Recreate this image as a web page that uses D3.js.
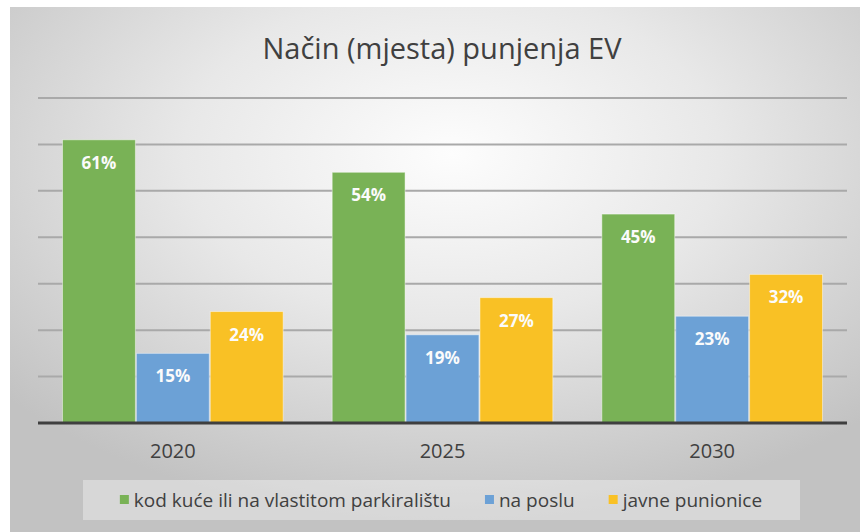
<!DOCTYPE html>
<html>
<head>
<meta charset="utf-8">
<script src="https://cdn.jsdelivr.net/npm/d3@7"></script>
<style>
  body { margin: 0; background: #ffffff; }
  svg { display: block; }
</style>
</head>
<body>
<div id="chart"></div>
<script>
// Način (mjesta) punjenja EV - grouped bars
var width = 860
var height = 532

var years = ["2020", "2025", "2030"]
var seriesNames = ["kod kuće ili na vlastitom parkiralištu", "na poslu", "javne punionice"]
var seriesColors = ["#79b256", "#6ca1d6", "#f9c125"]
var home = [0.61, 0.54, 0.45]
var work = [0.15, 0.19, 0.23]
var publicCharge = [0.24, 0.27, 0.32]
var yTicks = [0, 0.1, 0.2, 0.3, 0.4, 0.5, 0.6, 0.7]

var seriesValues = [home, work, publicCharge]
var font = "'Open Sans', sans-serif"

var svg = d3.select("#chart").append("svg")
    .attr("width", width)
    .attr("height", height)

// background gradient, light in the middle, grey at the edges
var defs = svg.append("defs")
var grad = defs.append("radialGradient")
    .attr("id", "bg")
    .attr("cx", "52%").attr("cy", "28%").attr("r", "70%")
grad.append("stop").attr("offset", "0%").attr("stop-color", "#fdfdfd")
grad.append("stop").attr("offset", "45%").attr("stop-color", "#e8e8e8")
grad.append("stop").attr("offset", "100%").attr("stop-color", "#c2c2c2")

svg.append("rect")
    .attr("x", 10).attr("y", 7)
    .attr("width", width - 10).attr("height", height - 7)
    .attr("fill", "url(#bg)")

var x = d3.scaleBand()
    .domain(years)
    .range([38, 847])

var x1 = d3.scaleBand()
    .domain(d3.range(seriesNames.length))
    .range([0, x.bandwidth()])
    .paddingOuter(0.325)

var y = d3.scaleLinear()
    .domain([0, 0.7])
    .range([423, 98])

// gridlines
svg.append("g").selectAll("line")
    .data(yTicks.slice(1))
    .enter().append("line")
    .attr("x1", 38).attr("x2", 847)
    .attr("y1", function(d) { return y(d) })
    .attr("y2", function(d) { return y(d) })
    .attr("stroke", "#a9a9a9")
    .attr("stroke-width", 2)

// title
svg.append("text")
    .attr("x", 442).attr("y", 59)
    .attr("text-anchor", "middle")
    .attr("fill", "#404040")
    .style("font-family", font)
    .style("font-size", "29px")
    .text("Način (mjesta) punjenja EV")

// bars
var groups = svg.append("g").selectAll("g")
    .data(years)
    .enter().append("g")
    .attr("transform", function(d) { return "translate(" + x(d) + ",0)" })

var bars = groups.selectAll("g")
    .data(function(d, i) {
        return seriesValues.map(function(vals, s) { return {s: s, v: vals[i]} })
    })
    .enter().append("g")

bars.append("rect")
    .attr("x", function(d) { return x1(d.s) + 0.5 })
    .attr("width", x1.bandwidth() - 1)
    .attr("y", function(d) { return y(d.v) })
    .attr("height", function(d) { return y(0) - y(d.v) })
    .attr("fill", function(d) { return seriesColors[d.s] })
    .attr("stroke", "rgba(255,255,255,0.45)")
    .attr("stroke-width", 1)

bars.append("text")
    .attr("x", function(d) { return x1(d.s) + x1.bandwidth() / 2 })
    .attr("y", function(d) { return y(d.v) + 29 })
    .attr("text-anchor", "middle")
    .attr("fill", "#fbfbfb")
    .style("font-family", font)
    .style("font-weight", "bold")
    .style("font-size", "17px")
    .text(function(d) { return Math.round(d.v * 100) + "%" })

// axis line
svg.append("line")
    .attr("x1", 38).attr("x2", 847)
    .attr("y1", y(0)).attr("y2", y(0))
    .attr("stroke", "#3f3f3f")
    .attr("stroke-width", 3)

// category labels
var xAxis = svg.append("g")
    .attr("transform", "translate(0," + y(0) + ")")
    .call(d3.axisBottom(x).tickSize(0).tickPadding(21))
xAxis.select(".domain").remove()
xAxis.selectAll("text")
    .attr("fill", "#404040")
    .style("font-family", font)
    .style("font-size", "20px")

// legend
svg.append("rect")
    .attr("x", 83).attr("y", 480)
    .attr("width", 717).attr("height", 40)
    .attr("fill", "rgba(255,255,255,0.35)")

var legend = svg.append("g")
var items = legend.selectAll("g")
    .data(seriesNames)
    .enter().append("g")

items.append("rect")
    .attr("width", 9).attr("height", 9)
    .attr("y", -5)
    .attr("fill", function(d, i) { return seriesColors[i] })

items.append("text")
    .attr("x", 14)
    .attr("dy", "0.36em")
    .attr("fill", "#404040")
    .style("font-family", font)
    .style("font-size", "19px")
    .text(function(d) { return d })

var offset = 0
var widths = []
items.each(function() { widths.push(this.getBBox().width) })
var total = d3.sum(widths) + 34 * (widths.length - 1)
var start = 441 - total / 2
items.attr("transform", function(d, i) {
    var t = "translate(" + (start + offset) + ",500)"
    offset += widths[i] + 34
    return t
})
</script>
</body>
</html>
